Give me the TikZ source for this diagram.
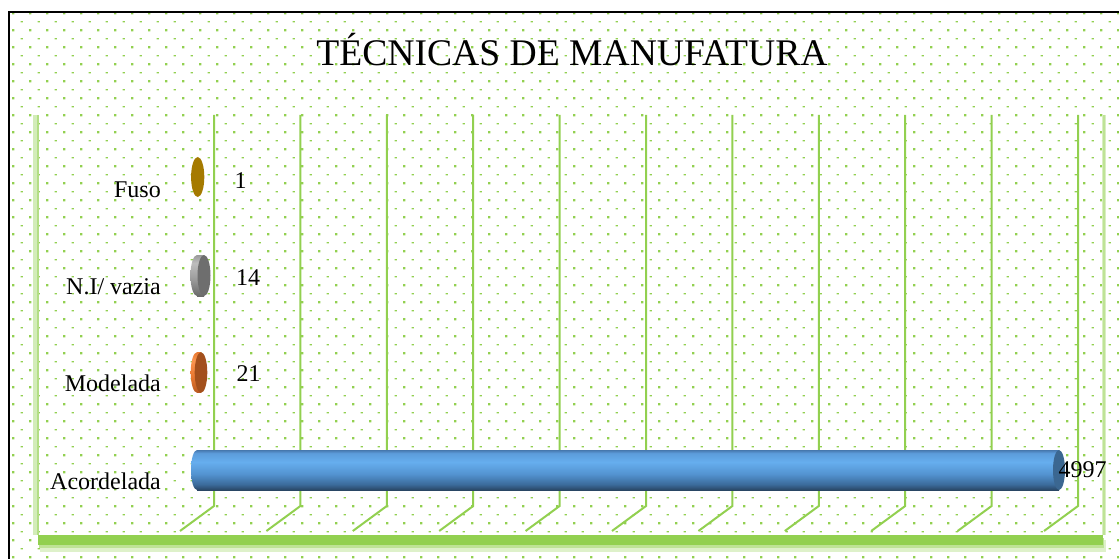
\documentclass[tikz,border=0pt]{standalone}
\usepackage{fontspec}
\setmainfont{Liberation Serif}
\definecolor{dotg}{HTML}{92D050}
\definecolor{gridg}{HTML}{92D050}
\definecolor{fusoc}{HTML}{A57A00}
\definecolor{b1}{HTML}{294664}
\definecolor{b2}{HTML}{3B6B9B}
\definecolor{b3}{HTML}{5393D0}
\definecolor{b4}{HTML}{66AEEE}
\definecolor{b5}{HTML}{5C9CDB}
\definecolor{b6}{HTML}{4678AE}
\definecolor{bface}{HTML}{3B6791}
\definecolor{g1}{HTML}{6A6A6A}
\definecolor{g2}{HTML}{9A9A9A}
\definecolor{g3}{HTML}{BDBDBD}
\definecolor{gface}{HTML}{6E6E6E}
\definecolor{o1}{HTML}{B85A20}
\definecolor{o2}{HTML}{E87830}
\definecolor{o3}{HTML}{FA9550}
\definecolor{oface}{HTML}{A3501C}
\pgfdeclareverticalshading{bluebar}{100bp}{color(0bp)=(b1); color(25bp)=(b1); color(32bp)=(b2); color(45bp)=(b3); color(60bp)=(b4); color(71bp)=(b5); color(75bp)=(b6); color(100bp)=(b6)}
\pgfdeclareverticalshading{graybar}{100bp}{color(0bp)=(g1); color(25bp)=(g1); color(45bp)=(g2); color(65bp)=(g3); color(75bp)=(g2); color(100bp)=(g2)}
\pgfdeclareverticalshading{orangebar}{100bp}{color(0bp)=(o1); color(25bp)=(o1); color(45bp)=(o2); color(65bp)=(o3); color(75bp)=(o2); color(100bp)=(o2)}
\tikzset{
  gridline/.style={draw=gridg, line width=2pt},
  catlabel/.style={anchor=base east, inner sep=0pt, font=\fontsize{24}{28}\selectfont},
  vallabel/.style={anchor=base west, inner sep=0pt, font=\fontsize{24}{28}\selectfont},
}
\begin{document}
\begin{tikzpicture}[x=1pt,y=-1pt]
\useasboundingbox (0,0) rectangle (1119,559);
\fill[white] (0,0) rectangle (1119,559);
% dotted background
\fill[dotg] \foreach \i in {0,...,65} {\foreach \k in {0,...,32} {(13.3+17*\i-1.1,13.3+17*\k-1.1) rectangle ++(2.2,2.2)}};
\fill[dotg] \foreach \i in {1,...,65} {\foreach \k in {0,...,31} {(4.8+17*\i-1.1,21.8+17*\k-0.6) rectangle ++(2.2,1.2)}};
% frame
\draw[black, line width=2pt] (9,560) -- (9,12) -- (1120,12);
% title
\node[anchor=base, inner sep=0pt, font=\fontsize{37.6}{42}\selectfont] (title) at (572,66) {TÉCNICAS DE MANUFATURA};
% walls
\draw[gridg!40, line width=5pt] (35.5,115) -- (35.5,535);
\draw[gridg!70, line width=2pt] (38,115) -- (38,535);
\draw[gridg!35, line width=4pt] (1104,115) -- (1104,535);
\draw[gridg!60, line width=1.2pt] (1104,115) -- (1104,535);
% floor
\fill[gridg!30] (40,540) rectangle (1106,552);
\fill[gridg!60] (39,538) rectangle (1104,548);
\fill[gridg] (38,535) rectangle (1103,545);
% gridlines
\foreach \i in {0,...,10} {
  \draw[gridline] (214+86.4*\i,115) -- (214+86.4*\i,506) -- (180+86.4*\i,531);
}
% Acordelada bar
\shade[shading=bluebar] (197,470) ellipse[x radius=6pt, y radius=20pt];
\shade[shading=bluebar] (197,450) rectangle (1059,490);
\fill[bface] (1059,470) ellipse[x radius=6pt, y radius=20pt];
% Modelada bar
\shade[shading=orangebar] (197,372.5) ellipse[x radius=6.3pt, y radius=20.3pt];
\shade[shading=orangebar] (197,352.2) rectangle (201,392.8);
\fill[oface] (201,372.5) ellipse[x radius=6.3pt, y radius=20.3pt];
% N.I bar
\shade[shading=graybar] (197,275.5) ellipse[x radius=6.5pt, y radius=20.5pt];
\shade[shading=graybar] (197,255) rectangle (204,296);
\fill[gface] (204,275.5) ellipse[x radius=6.5pt, y radius=20.5pt];
% Fuso bar
\fill[fusoc] (197.7,177) ellipse[x radius=6.6pt, y radius=20pt];
% category labels
\node[catlabel] (lfuso) at (161,197.3) {Fuso};
\node[catlabel] (lni) at (161,294) {N.I/ vazia};
\node[catlabel] (lmod) at (161,391.7) {Modelada};
\node[catlabel] (lacord) at (161,489) {Acordelada};
% value labels
\node[vallabel] (vfuso) at (234.5,188) {1};
\node[vallabel] (vni) at (236,285) {14};
\node[vallabel] (vmod) at (236.5,381.7) {21};
\node[vallabel] (vacord) at (1058.5,477.7) {4997};
\end{tikzpicture}
\end{document}
